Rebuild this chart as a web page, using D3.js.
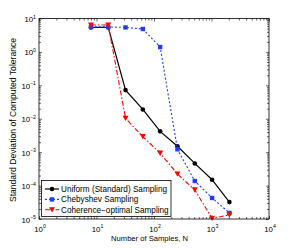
<!DOCTYPE html>
<html><head>
<meta charset="utf-8">
<script src="https://d3js.org/d3.v7.min.js"></script>
<style>
  body { margin: 0; background: #fff; }
  text { font-family: "Liberation Sans", Arial, Helvetica, sans-serif; fill: #000; }
</style>
</head>
<body>
<svg id="chart" width="298" height="248"></svg>
<script>
const svg = d3.select("#chart");

// number of samples and the three sampling strategies
const samples = [8, 16, 32, 64, 128, 256, 512, 1024, 2048];
const uniform = [5.4, 5.4, 0.072, 0.019, 0.0042, 0.0015, 0.00046, 0.00015, 0.000032];
const chebyshev = [5.6, 5.6, 5.4, 4.85, 1.4, 0.00122, 0.000137, 0.0000426, 0.0000152];
const coherence = [6.4, 6.4, 0.0103, 0.0029, 0.00093, 0.000222, 0.000074, 0.0000105, 0.0000132];

const seriesNames = ["Uniform (Standard) Sampling", "Chebyshev Sampling", "Coherence\u2212optimal Sampling"];
const xDecades = [0, 1, 2, 3, 4];
const yDecades = [1, 0, -1, -2, -3, -4, -5];

const series = [
  { name: seriesNames[0], values: uniform, color: "#000", dash: null, marker: "circle" },
  { name: seriesNames[1], values: chebyshev, color: "#1f3cff", dash: "2,2", marker: "square" },
  { name: seriesNames[2], values: coherence, color: "#ff0000", dash: "5,2,1.5,2", marker: "triangle" }
];

const plotL = 39, plotR = 269, plotT = 18.5, plotB = 219;
const x = d3.scaleLog().domain([1, 1e4]).range([plotL, plotR]);
const y = d3.scaleLog().domain([1e-5, 10]).range([plotB, plotT]);

// minor + major tick positions
const xMinor = [], yMinor = [];
for (let e = 0; e < 4; e++) for (let k = 2; k <= 9; k++) xMinor.push(k * Math.pow(10, e));
for (let e = -5; e < 1; e++) for (let k = 2; k <= 9; k++) yMinor.push(k * Math.pow(10, e));
const xMajor = xDecades.map(d => Math.pow(10, d));
const yMajor = yDecades.map(d => Math.pow(10, d));

svg.append("rect")
  .attr("x", plotL).attr("y", plotT)
  .attr("width", plotR - plotL).attr("height", plotB - plotT)
  .attr("fill", "#fff");

// ticks pointing inward on all four sides
function drawTicks(axisGen, tx, ty, vals, len) {
  svg.append("g")
    .attr("transform", `translate(${tx},${ty})`)
    .call(axisGen.tickValues(vals).tickSize(-len).tickFormat(""))
    .call(g => g.select(".domain").remove())
    .call(g => g.selectAll("line").attr("stroke", "#000").attr("stroke-width", 0.6));
}
drawTicks(d3.axisBottom(x), 0, plotB, xMajor, 3);
drawTicks(d3.axisBottom(x), 0, plotB, xMinor, 2);
drawTicks(d3.axisTop(x), 0, plotT, xMajor, 3);
drawTicks(d3.axisTop(x), 0, plotT, xMinor, 2);
drawTicks(d3.axisLeft(y), plotL, 0, yMajor, 3);
drawTicks(d3.axisLeft(y), plotL, 0, yMinor, 2);
drawTicks(d3.axisRight(y), plotR, 0, yMajor, 3);
drawTicks(d3.axisRight(y), plotR, 0, yMinor, 2);

// tick labels with superscript exponents
xDecades.forEach(e => {
  const t = svg.append("text")
    .attr("x", x(Math.pow(10, e)) + 1)
    .attr("y", 231.5)
    .attr("text-anchor", "middle")
    .attr("font-size", 7.8);
  t.append("tspan").text("10");
  t.append("tspan").attr("font-size", 5.2).attr("dy", -3.5).text(e);
});
yDecades.forEach(e => {
  const t = svg.append("text")
    .attr("x", 36)
    .attr("y", y(Math.pow(10, e)) + 3.5)
    .attr("text-anchor", "end")
    .attr("font-size", 7.8);
  t.append("tspan").text("10");
  t.append("tspan").attr("font-size", 5.2).attr("dy", -3.5).text(e < 0 ? "\u2212" + (-e) : e);
});

svg.append("text")
  .attr("x", 149.5).attr("y", 241)
  .attr("text-anchor", "middle")
  .attr("font-size", 7.6)
  .text("Number of Samples, N");

svg.append("text")
  .attr("transform", "translate(16,120) rotate(-90)")
  .attr("text-anchor", "middle")
  .attr("font-size", 8.6)
  .text("Standard Deviation of Computed Tolerance");

const line = d3.line().x(d => x(d[0])).y(d => y(d[1]));

function drawMarker(g, type, cx, cy, color) {
  if (type === "circle") {
    g.append("circle").attr("cx", cx).attr("cy", cy).attr("r", 2.3).attr("fill", color);
  } else if (type === "square") {
    g.append("rect").attr("x", cx - 2.2).attr("y", cy - 2.2).attr("width", 4.4).attr("height", 4.4).attr("fill", color);
  } else {
    g.append("path")
      .attr("d", `M${cx - 3},${cy - 2.6}L${cx + 3},${cy - 2.6}L${cx},${cy + 2.8}Z`)
      .attr("fill", color);
  }
}

const plot = svg.append("g");
series.forEach(s => {
  const pts = samples.map((n, i) => [n, s.values[i]]);
  const g = plot.append("g");
  g.append("path")
    .attr("d", line(pts))
    .attr("fill", "none")
    .attr("stroke", s.color)
    .attr("stroke-width", s.dash ? 1.1 : 1.2)
    .attr("stroke-dasharray", s.dash);
  pts.forEach(p => drawMarker(g, s.marker, x(p[0]), y(p[1]), s.color));
});

// axes box
svg.append("rect")
  .attr("x", plotL).attr("y", plotT)
  .attr("width", plotR - plotL).attr("height", plotB - plotT)
  .attr("fill", "none").attr("stroke", "#000").attr("stroke-width", 0.8);

// legend
const legend = svg.append("g");
legend.append("rect")
  .attr("x", 41.5).attr("y", 180.5)
  .attr("width", 129.5).attr("height", 36)
  .attr("fill", "#fff").attr("stroke", "#000").attr("stroke-width", 0.8);
series.forEach((s, i) => {
  const ly = 189 + i * 10.4;
  legend.append("line")
    .attr("x1", 45).attr("x2", 59).attr("y1", ly).attr("y2", ly)
    .attr("stroke", s.color).attr("stroke-width", s.dash ? 1.1 : 1.2)
    .attr("stroke-dasharray", s.dash);
  drawMarker(legend, s.marker, 52, ly, s.color);
  legend.append("text")
    .attr("x", 61).attr("y", ly + 3)
    .attr("font-size", 8.2)
    .text(s.name);
});
</script>
</body>
</html>
